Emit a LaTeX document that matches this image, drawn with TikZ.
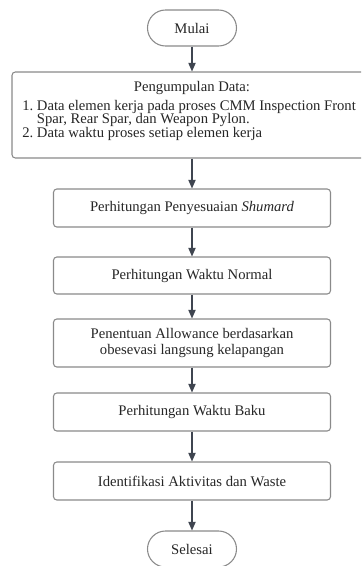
\documentclass[tikz,border=0pt]{standalone}
\usepackage{fontspec}
\setmainfont{Liberation Serif}
\usetikzlibrary{arrows.meta}

\definecolor{boxline}{HTML}{8A8A8A}
\definecolor{arrowgray}{HTML}{3F4550}
\definecolor{textgray}{HTML}{262626}

\begin{document}
\begin{tikzpicture}[x=0.75pt, y=-0.75pt,
  box/.style={draw=boxline, line width=0.8pt, rounded corners=2.5pt, fill=white,
    text=textgray, font=\fontsize{11}{12.5}\selectfont, align=center, inner sep=0pt},
  terminal/.style={box, rounded corners=13.5pt, minimum width=66.75pt, minimum height=27pt},
  listtext/.style={text=textgray, font=\fontsize{11}{12.5}\selectfont, inner sep=0pt},
  flow/.style={draw=arrowgray, line width=0.8pt, -{Triangle[width=5.5pt,length=6.5pt]}}]

\useasboundingbox (0,0) rectangle (361,566);
\clip (0,0) rectangle (361,566);

\node[terminal] (mulai) at (192,28) {Mulai};

\node[box, minimum width=270pt, minimum height=64.5pt] (data) at (192,115) {};
\node[listtext, anchor=base] (datatitle) at (192,92) {Pengumpulan Data:};
\node[listtext, anchor=base west] (item1) at (22,110.5) {1.~Data elemen kerja pada proses CMM Inspection Front};
\node[listtext, anchor=base west] (item1b) at (36.7,124) {Spar, Rear Spar, dan Weapon Pylon.};
\node[listtext, anchor=base west] (item2) at (22,137.5) {2.~Data waktu proses setiap elemen kerja};

\node[box, minimum width=207.75pt, minimum height=28.5pt] (shumard) at (192,208) {Perhitungan Penyesuaian \textit{Shumard}};
\node[box, minimum width=207.75pt, minimum height=27.75pt] (normal) at (192,275.5) {Perhitungan Waktu Normal};
\node[box, minimum width=207.75pt, minimum height=36pt] (allow) at (192,343) {Penentuan Allowance berdasarkan\\obesevasi langsung kelapangan};
\node[box, minimum width=207.75pt, minimum height=28.5pt] (baku) at (192,412) {Perhitungan Waktu Baku};
\node[box, minimum width=207.75pt, minimum height=28.5pt] (waste) at (192,481) {Identifikasi Aktivitas dan Waste};

\node[terminal] (selesai) at (192,549) {Selesai};

%\draw[flow] (mulai) -- (data);
\draw[flow] (mulai.south) -- (data.north);
\draw[flow] (data.south) -- (shumard.north);
\draw[flow] (shumard.south) -- (normal.north);
\draw[flow] (normal.south) -- (allow.north);
\draw[flow] (allow.south) -- (baku.north);
\draw[flow] (baku.south) -- (waste.north);
\draw[flow] (waste.south) -- (selesai.north);

\end{tikzpicture}
\end{document}
